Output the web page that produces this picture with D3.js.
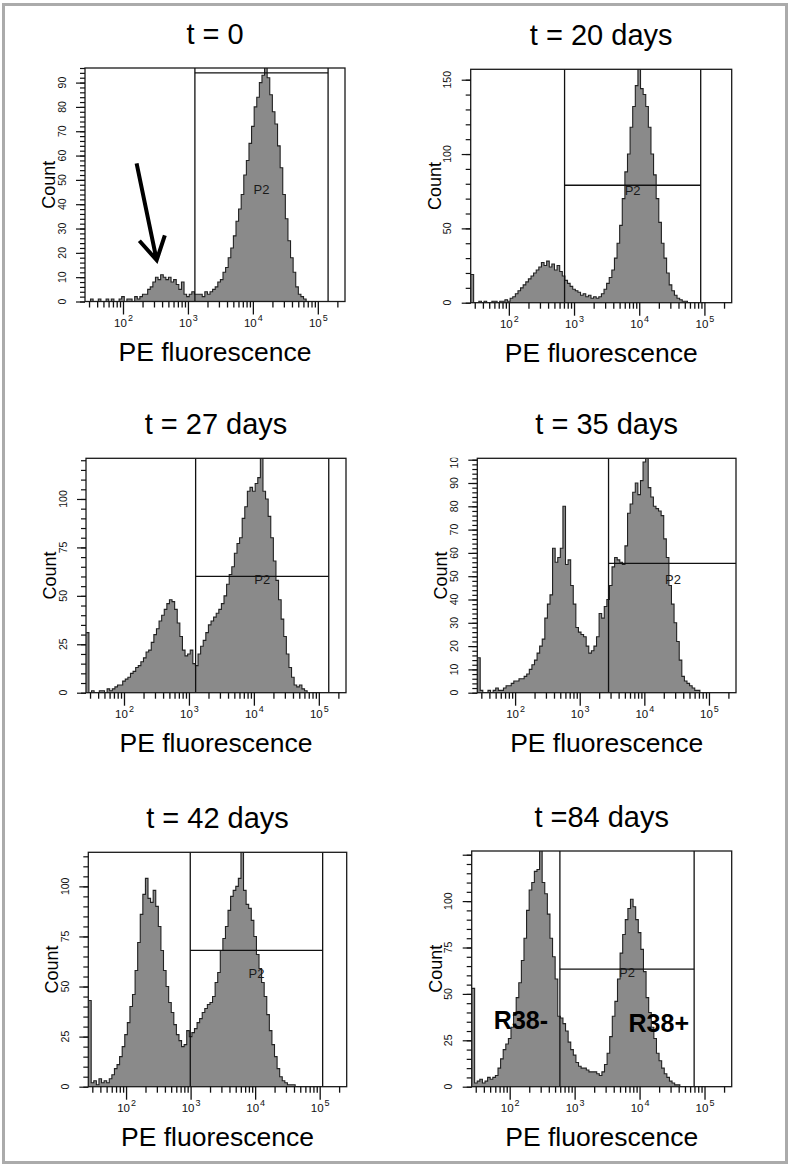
<!DOCTYPE html>
<html><head><meta charset="utf-8">
<script src="https://cdn.jsdelivr.net/npm/d3@7"></script>
<style>
body{margin:0;background:#fff}
svg{display:block}
text{font-family:"Liberation Sans",Arial,sans-serif;fill:#000}
</style>
</head><body>
<svg id="c" width="792" height="1171"></svg>
<script>
// ---------- data ----------
const titles = ["t = 0", "t = 20 days", "t = 27 days", "t = 35 days", "t = 42 days", "t =84 days"];
const xLabel = "PE fluorescence";
const yLabel = "Count";
const binLogStart = 1.42;   // log10 of first bin edge
const binLogStep = 0.04;    // log10 width of each bin
const xDomain = [26, 262144];
const xMajorTicks = [1e2, 1e3, 1e4, 1e5];
const xTickBase = ["10", "10", "10", "10"];
const xTickExp = ["2", "3", "4", "5"];
const yMax = [96, 157, 121, 100.6, 117, 127];
const yMajorStep = [10, 50, 25, 10, 25, 25];
const yMinorStep = [2, 10, 5, 2, 5, 5];
const yLabelMax = [90, 150, 100, 100, 100, 100];

const counts_t0 = [
 0,0,1,0,0,1,0,0,1,0,
 1,0,0,1,2,0,1,1,0,2,
 1,2,3,3,5,6,8,10,9,11,
 10,9,10,8,9,7,5,8,3,2,
 3,4,3,3,3,2,4,3,4,5,
 6,8,9,12,14,18,22,27,33,38,
 44,52,58,65,72,80,84,90,93,99,
 92,85,78,73,64,55,44,34,25,18,
 12,6,3,2,1,0,0,0,0,0,
 0,0,0,0,0,0,0,0,0,0];
const counts_t20 = [
 19,0,0,1,0,1,0,0,1,1,
 0,1,1,2,1,3,4,6,8,10,
 12,14,16,18,20,22,24,27,25,28,
 24,26,22,25,21,18,15,13,11,9,
 8,7,5,6,4,5,3,4,3,4,
 6,9,13,17,22,30,40,52,70,88,
 100,118,132,146,160,144,140,132,118,100,
 86,70,54,40,30,20,12,8,5,3,
 2,1,1,0,0,0,0,0,0,0,
 0,0,0,0,0,0,0,0,0,0];
const counts_t27 = [
 31,0,1,0,0,1,1,0,2,1,
 2,3,4,4,6,7,8,10,11,13,
 14,16,18,21,22,26,30,33,37,40,
 43,46,48,47,43,36,29,22,19,20,
 22,15,14,20,24,27,31,35,37,39,
 41,43,46,50,56,61,65,72,77,80,
 90,96,104,106,104,108,111,125,104,100,
 91,80,68,58,48,38,29,20,13,8,
 4,3,4,2,1,0,0,0,0,0,
 0,0,0,0,0,0,0,0,0,0];
const counts_t35 = [
 15,1,0,0,1,0,1,2,1,1,
 2,3,3,4,5,5,6,6,7,8,
 10,12,14,17,20,23,32,38,42,62,
 56,58,62,80,55,57,46,38,28,26,
 25,24,20,17,18,20,24,34,32,37,
 40,46,54,58,57,56,55,63,77,81,
 86,90,85,91,99,101,88,84,80,79,
 78,76,66,58,46,38,30,22,14,7,
 5,4,3,2,1,1,0,0,0,0,
 0,0,0,0,0,0,0,0,0,0];
const counts_t42 = [
 43,2,3,1,4,2,3,2,4,6,
 9,11,15,20,26,32,40,46,58,72,
 86,96,104,94,92,98,90,80,68,58,
 50,42,37,31,26,23,20,21,28,25,
 27,29,32,34,37,39,41,42,45,52,
 57,68,74,80,88,95,98,100,104,120,
 98,91,89,83,75,66,59,52,45,36,
 28,21,15,9,5,3,2,1,1,1,
 0,0,0,0,0,0,0,0,0,0,
 0,0,0,0,0,0,0,0,0,0];
const counts_t84 = [
 53,2,3,4,2,3,5,4,5,6,
 10,15,20,23,26,32,40,48,56,68,
 80,95,106,110,116,117,130,110,104,93,
 80,70,58,38,37,34,30,24,20,17,
 13,11,10,10,9,8,8,8,7,6,
 8,12,18,27,38,46,58,72,82,90,
 96,101,97,90,83,74,62,48,40,32,
 26,18,14,10,7,5,3,2,1,1,
 0,0,0,0,0,0,0,0,0,0,
 0,0,0,0,0,0,0,0,0,0];
const allCounts = [counts_t0, counts_t20, counts_t27, counts_t35, counts_t42, counts_t84];

// gate P2 : lower / upper fluorescence bound and marker height (count)
const gateLow = [1280, 716, 1268, 2793, 988, 593];
const gateHigh = [143900, 87700, 142200, 276000, 111200, 69200];
const gateCount = [94, 79, 60, 55.5, 68, 63.3];
const gateName = "P2";

// annotations (data coordinates)
const regionPanel = 5;
const regionNames = ["R38-", "R38+"];
const regionX = [149, 19770];
const regionY = [31, 29.4];
const arrowPanel = 0;
const arrowFrom = [162, 56.8];
const arrowTo = [330, 17];

// ---------- layout ----------
const panelLeft = [85, 470.7, 86, 477.3, 88.3, 471.7];
const panelRight = [345, 731.7, 346, 736, 346.7, 731.7];
const panelTop = [68, 69.3, 458.3, 458.3, 852.3, 851];
const panelBottom = [301.5, 302.7, 692.7, 692.7, 1086.7, 1086.7];

const svg = d3.select("#c");
svg.append("rect").attr("x", 3.5).attr("y", 4.5).attr("width", 783).attr("height", 1158)
  .attr("fill", "none").attr("stroke", "#ababab").attr("stroke-width", 3);
const defs = svg.append("defs");

// minor x ticks (log decades)
const xMinor = [];
[1, 2, 3, 4, 5].forEach(n => { for (let m = 2; m <= 9; m++) { const v = m * Math.pow(10, n); if (v >= xDomain[0] && v <= xDomain[1]) xMinor.push(v); } });

allCounts.forEach((counts, k) => {
  const L = panelLeft[k], R = panelRight[k], T = panelTop[k], B = panelBottom[k];
  const x = d3.scaleLog().domain(xDomain).range([L, R]);
  const y = d3.scaleLinear().domain([0, yMax[k]]).range([B, T]);
  const g = svg.append("g");
  const cid = "clip" + k;
  defs.append("clipPath").attr("id", cid).append("rect")
    .attr("x", L).attr("y", T).attr("width", R - L).attr("height", B - T);
  const lid = "lclip" + k;
  defs.append("clipPath").attr("id", lid).append("rect")
    .attr("x", 0).attr("y", T - 0.5).attr("width", L).attr("height", B - T + 30);

  // histogram
  const pts = counts.map((c, i) => [Math.pow(10, binLogStart + i * binLogStep), c]);
  pts.push([Math.pow(10, binLogStart + counts.length * binLogStep), 0]);
  const area = d3.area().curve(d3.curveStepAfter).x(d => x(d[0])).y0(B).y1(d => y(d[1]));
  const line = d3.line().curve(d3.curveStepAfter).x(d => x(d[0])).y(d => y(d[1]));
  const hg = g.append("g").attr("clip-path", `url(#${cid})`);
  hg.append("path").datum(pts).attr("d", area).attr("fill", "#8a8a8a");
  hg.append("path").datum(pts).attr("d", line).attr("fill", "none").attr("stroke", "#222").attr("stroke-width", 1.1);

  // gate
  const gg = g.append("g").attr("clip-path", `url(#${cid})`).attr("stroke", "#111").attr("stroke-width", 1.3);
  const gx0 = x(gateLow[k]), gx1 = x(gateHigh[k]), gy = y(gateCount[k]);
  gg.append("line").attr("x1", gx0).attr("x2", gx0).attr("y1", T).attr("y2", B);
  gg.append("line").attr("x1", gx1).attr("x2", gx1).attr("y1", T).attr("y2", B);
  gg.append("line").attr("x1", gx0).attr("x2", gx1).attr("y1", gy).attr("y2", gy);
  g.append("text").attr("x", (gx0 + gx1) / 2).attr("y", T + 125.5).attr("text-anchor", "middle")
    .attr("font-size", 13).style("fill", "#1a1a1a").text(gateName);

  // box
  g.append("rect").attr("x", L).attr("y", T).attr("width", R - L).attr("height", B - T)
    .attr("fill", "none").attr("stroke", "#1a1a1a").attr("stroke-width", 1.3);

  // x axis
  const ax1 = g.append("g").attr("transform", `translate(0,${B})`)
    .call(d3.axisBottom(x).tickValues(xMinor).tickSize(6).tickFormat(""));
  const ax2 = g.append("g").attr("transform", `translate(0,${B})`)
    .call(d3.axisBottom(x).tickValues(xMajorTicks).tickSize(13).tickFormat(""));
  [ax1, ax2].forEach(a => { a.select(".domain").remove(); a.selectAll("line").attr("stroke", "#111").attr("stroke-width", 1.3); });
  ax2.selectAll(".tick").each(function (d, i) {
    const t = d3.select(this).append("text").attr("y", 25.5).attr("text-anchor", "middle")
      .attr("font-size", 11.5).style("fill", "#111");
    t.append("tspan").text(xTickBase[i]);
    t.append("tspan").attr("dy", -6).attr("dx", 1).attr("font-size", 9).text(xTickExp[i]);
  });

  // y axis
  const ya1 = g.append("g").attr("transform", `translate(${L},0)`)
    .call(d3.axisLeft(y).tickValues(d3.range(0, yMax[k] + 1e-6, yMinorStep[k])).tickSize(5).tickFormat(""));
  const yMaj = d3.range(0, yMax[k] + 1e-6, yMajorStep[k]);
  const ya2 = g.append("g").attr("transform", `translate(${L},0)`)
    .call(d3.axisLeft(y).tickValues(yMaj).tickSize(9).tickFormat(""));
  [ya1, ya2].forEach(a => { a.select(".domain").remove(); a.selectAll("line").attr("stroke", "#111").attr("stroke-width", 1.2); });
  const yl = g.append("g").attr("clip-path", `url(#${lid})`);
  yl.selectAll("text").data(yMaj.filter(v => v <= yLabelMax[k])).join("text")
    .attr("transform", d => `translate(${L - 19.5},${y(d)}) rotate(-90)`)
    .attr("text-anchor", "middle").attr("font-size", 10.5).style("fill", "#111").text(d => d);

  // labels
  g.append("text").attr("transform", `translate(${L - 30},${(T + B) / 2}) rotate(-90)`)
    .attr("text-anchor", "middle").attr("font-size", 18).text(yLabel);
  g.append("text").attr("x", (L + R) / 2).attr("y", B + 59).attr("text-anchor", "middle")
    .attr("font-size", 26.5).text(xLabel);
  g.append("text").attr("x", (L + R) / 2).attr("y", T - 24).attr("text-anchor", "middle")
    .attr("font-size", 29).text(titles[k]);

  if (k === regionPanel) {
    regionNames.forEach((nm, j) => {
      g.append("text").attr("x", x(regionX[j])).attr("y", y(regionY[j])).attr("text-anchor", "middle")
        .attr("font-size", 25).attr("font-weight", "bold").text(nm);
    });
  }
  if (k === arrowPanel) {
    const x0 = x(arrowFrom[0]), y0 = y(arrowFrom[1]), x1 = x(arrowTo[0]), y1 = y(arrowTo[1]);
    const ang = Math.atan2(y1 - y0, x1 - x0), hl = 26, ha = Math.PI / 6;
    const p = d3.path();
    p.moveTo(x0, y0); p.lineTo(x1, y1);
    p.moveTo(x1 - hl * Math.cos(ang - ha), y1 - hl * Math.sin(ang - ha));
    p.lineTo(x1, y1);
    p.lineTo(x1 - hl * Math.cos(ang + ha), y1 - hl * Math.sin(ang + ha));
    g.append("path").attr("d", p.toString()).attr("fill", "none").attr("stroke", "#000")
      .attr("stroke-width", 4).attr("stroke-linejoin", "miter");
  }
});
</script>
</body></html>
